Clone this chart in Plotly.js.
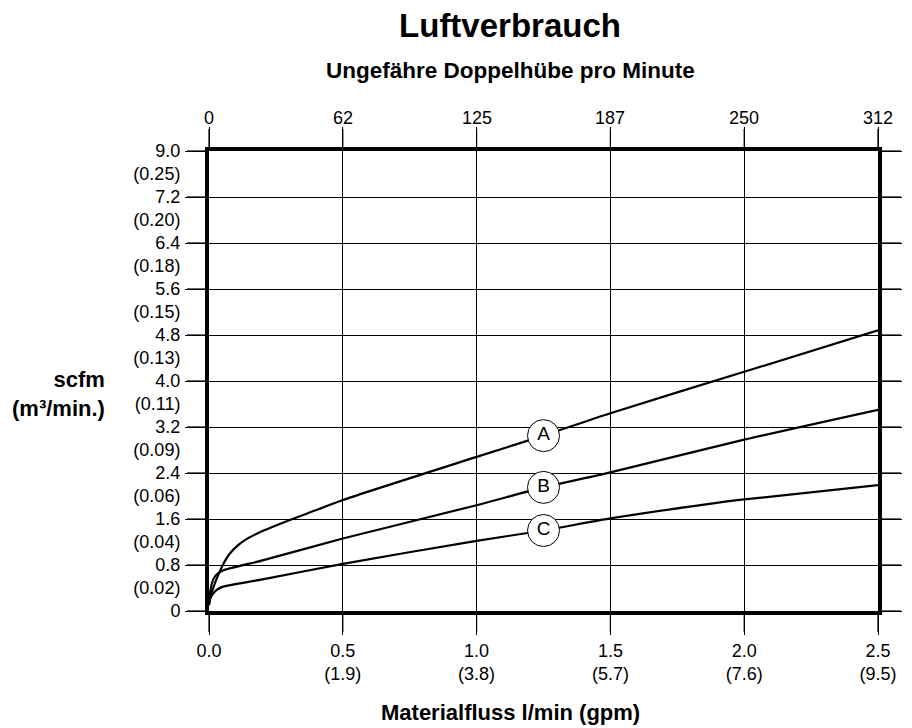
<!DOCTYPE html>
<html>
<head>
<meta charset="utf-8">
<script src="https://cdn.plot.ly/plotly-3.0.1.min.js"></script>
<style>html,body{margin:0;padding:0;background:#fff;}</style>
</head>
<body>
<div id="chart" style="width:912px;height:728px;"></div>
<script>
// Curve A
const flowA = [0, 0.005, 0.015, 0.033, 0.055, 0.078, 0.11, 0.14, 0.2, 0.3, 0.404, 0.5, 1.0, 1.25, 1.5, 2.0, 2.5];
const airA  = [0.12, 0.25, 0.39, 0.61, 0.83, 1.0, 1.15, 1.25, 1.39, 1.58, 1.76, 1.93, 2.68, 3.05, 3.44, 4.16, 4.88];
// Curve B
const flowB = [0, 0.005, 0.012, 0.025, 0.05, 0.2, 0.5, 1.0, 1.25, 1.5, 2.0, 2.5];
const airB  = [0.12, 0.35, 0.5, 0.62, 0.70, 0.88, 1.26, 1.84, 2.15, 2.41, 2.98, 3.50];
// Curve C
const flowC = [0, 0.005, 0.015, 0.03, 0.05, 0.2, 0.5, 1.0, 1.25, 1.5, 1.85, 2.0, 2.5];
const airC  = [0.1, 0.22, 0.3, 0.37, 0.42, 0.55, 0.82, 1.22, 1.40, 1.61, 1.85, 1.94, 2.19];

const curveNames = ['A', 'B', 'C'];
const labelFlow = 1.25;

// Axis ticks
const xTickVals = [0, 0.5, 1.0, 1.5, 2.0, 2.5];
const xTickText = ['0.0', '0.5<br>(1.9)', '1.0<br>(3.8)', '1.5<br>(5.7)', '2.0<br>(7.6)', '2.5<br>(9.5)'];
const strokeTickText = ['0', '62', '125', '187', '250', '312'];
const yTickVals = [0, 0.8, 1.6, 2.4, 3.2, 4.0, 4.8, 5.6, 6.4, 7.2, 8.0];
const yTickText = ['0', '0.8', '1.6', '2.4', '3.2', '4.0', '4.8', '5.6', '6.4', '7.2', '9.0'];
const yMetricVals = [0.4, 1.2, 2.0, 2.8, 3.6, 4.4, 5.2, 6.0, 6.8, 7.6];
const yMetricText = ['(0.02)', '(0.04)', '(0.06)', '(0.09)', '(0.11)', '(0.13)', '(0.15)', '(0.18)', '(0.20)', '(0.25)'];

const FONT = 'Liberation Sans, Arial, Helvetica, sans-serif';
const flows = [flowA, flowB, flowC];
const airs = [airA, airB, airC];

const traces = flows.map((fx, i) => ({
  x: fx, y: airs[i], type: 'scatter', mode: 'lines',
  line: {color: '#000', width: 2.2, shape: 'spline', smoothing: 0.7},
  hoverinfo: 'skip', showlegend: false
}));

const lx = [], ly = [];
flows.forEach((fx, i) => {
  const k = fx.indexOf(labelFlow);
  lx.push(fx[k]); ly.push(airs[i][k]);
});
traces.push({
  x: lx, y: ly, text: curveNames, type: 'scatter', mode: 'markers+text',
  textposition: 'middle center',
  textfont: {family: FONT, size: 19, color: '#000'},
  marker: {symbol: 'circle', size: 32, color: '#fff', line: {color: '#000', width: 1}},
  showlegend: false, hoverinfo: 'skip', cliponaxis: false
});

// combined y labels: scfm values at grid lines, m³/min values between them
const yAllVals = [], yAllText = [];
yTickVals.forEach((v, i) => {
  yAllVals.push(v); yAllText.push(yTickText[i]);
  if (i < yMetricVals.length) { yAllVals.push(yMetricVals[i]); yAllText.push(yMetricText[i]); }
});

const W = 912, H = 728;
const M = {l: 209, r: 34, t: 151, b: 117};
const pw = W - M.l - M.r, ph = H - M.t - M.b;
const px2x = p => (p - M.l) / pw;
const py2y = p => (H - M.b - p) / ph;

const annotations = [
  {text: '<b>Ungefähre Doppelhübe pro Minute</b>', xref: 'paper', yref: 'paper',
   x: px2x(510), y: py2y(70), xanchor: 'center', yanchor: 'middle', showarrow: false,
   font: {family: FONT, size: 22.5, color: '#000'}},
  {text: '<b>Materialfluss l/min (gpm)</b>', xref: 'paper', yref: 'paper',
   x: px2x(510), y: py2y(712), xanchor: 'center', yanchor: 'middle', showarrow: false,
   font: {family: FONT, size: 22, color: '#000'}},
  {text: '<b>scfm</b><br><b>(m³/min.)</b>', xref: 'paper', yref: 'paper',
   x: px2x(107), y: py2y(394), xanchor: 'right', yanchor: 'middle', align: 'right', showarrow: false,
   font: {family: FONT, size: 22, color: '#000'}}
];
// top scale: approximate double strokes per minute, at the same tick positions
xTickVals.forEach((v, i) => {
  annotations.push({text: strokeTickText[i], xref: 'x', x: v, yref: 'paper', y: 1,
    xanchor: 'center', yanchor: 'bottom', yshift: 21, showarrow: false,
    font: {family: FONT, size: 18, color: '#000'}});
});

const layout = {
  width: W, height: H,
  margin: M,
  paper_bgcolor: '#fff', plot_bgcolor: '#fff',
  font: {family: FONT, color: '#000', size: 18},
  showlegend: false,
  title: {
    text: '<b>Luftverbrauch</b>',
    font: {family: FONT, size: 33, color: '#000'},
    xref: 'container', yref: 'container',
    x: 510 / W, xanchor: 'center', y: 1 - 25 / H, yanchor: 'middle'
  },
  xaxis: {
    range: [0, 2.5], tickmode: 'array', tickvals: xTickVals, ticktext: xTickText,
    showgrid: true, gridcolor: '#000', gridwidth: 1, zeroline: false,
    showline: true, linecolor: '#000', linewidth: 4, mirror: 'ticks',
    ticks: 'outside', ticklen: 20, tickwidth: 1, tickcolor: '#000',
    tickfont: {family: FONT, size: 18, color: '#000'}, fixedrange: true
  },
  yaxis: {
    range: [0, 8], tickmode: 'array', tickvals: yAllVals, ticktext: yAllText,
    showgrid: false, zeroline: false,
    showline: true, linecolor: '#000', linewidth: 4, mirror: 'ticks',
    ticks: '', ticklabelstandoff: 21,
    minor: {tickmode: 'array', tickvals: yTickVals, ticks: 'outside', ticklen: 20, tickwidth: 1, tickcolor: '#000',
            showgrid: true, gridcolor: '#000', gridwidth: 1},
    tickfont: {family: FONT, size: 18, color: '#000'}, fixedrange: true
  },
  annotations: annotations
};

Plotly.newPlot('chart', traces, layout, {displayModeBar: false, staticPlot: true}).then(function (gd) {
  // outside tick marks on all four sides, placed with the axes' own scales
  const xa = gd._fullLayout.xaxis, ya = gd._fullLayout.yaxis;
  const tl = {color: '#000', width: 1.2};
  const shapes = [];
  xTickVals.forEach(v => {
    const fx = xa.l2p(v) / xa._length;
    shapes.push({type: 'line', xref: 'paper', yref: 'paper', x0: fx, x1: fx, y0: -3 / ya._length, y1: -21 / ya._length, line: tl, layer: 'above'});
    shapes.push({type: 'line', xref: 'paper', yref: 'paper', x0: fx, x1: fx, y0: 1 + 3 / ya._length, y1: 1 + 22 / ya._length, line: tl, layer: 'above'});
  });
  yTickVals.forEach(v => {
    const fy = 1 - ya.l2p(v) / ya._length;
    shapes.push({type: 'line', xref: 'paper', yref: 'paper', y0: fy, y1: fy, x0: -3 / xa._length, x1: -22 / xa._length, line: tl, layer: 'above'});
    shapes.push({type: 'line', xref: 'paper', yref: 'paper', y0: fy, y1: fy, x0: 1 + 3 / xa._length, x1: 1 + 23 / xa._length, line: tl, layer: 'above'});
  });
  return Plotly.relayout(gd, {shapes: shapes});
});
</script>
</body>
</html>
